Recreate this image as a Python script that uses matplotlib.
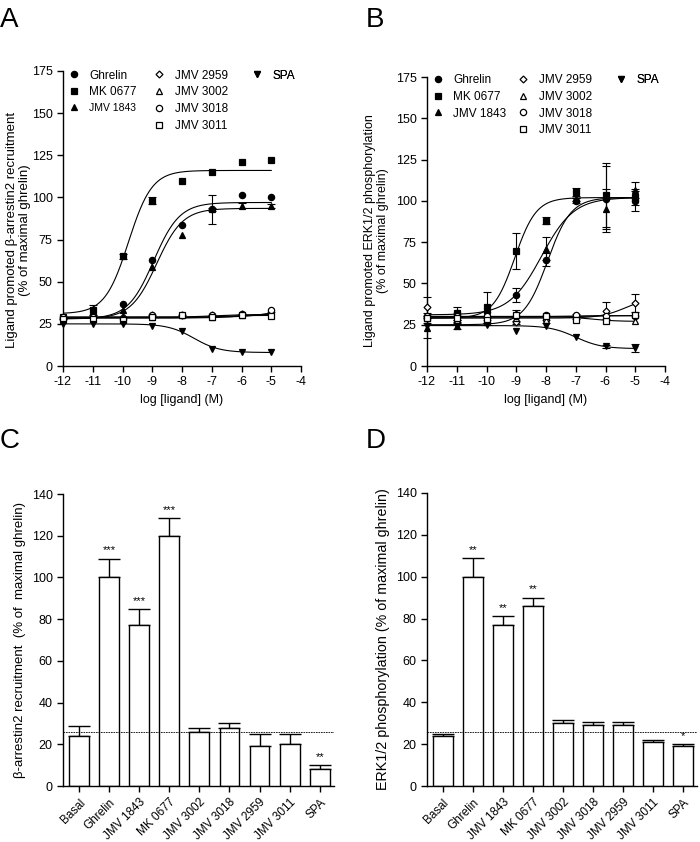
import numpy as np
import matplotlib.pyplot as plt

plt.rcParams['font.family'] = ['Liberation Sans', 'DejaVu Sans']
plt.rcParams['font.size'] = 8
plt.rcParams['axes.unicode_minus'] = False

# ---- dose response data (panels A and B) ----
log_dose = [-12, -11, -10, -9, -8, -7, -6, -5]
ligands = ['Ghrelin', 'MK 0677', 'JMV 1843', 'JMV 2959', 'JMV 3002', 'JMV 3018', 'JMV 3011', 'SPA']
markers = ['o', 's', '^', 'D', '^', 'o', 's', 'v']
filled = [True, True, True, False, False, False, False, True]

# panel A: beta-arrestin2 recruitment
arr_mean = {
    'Ghrelin': [28, 30, 37, 63, 83.5, 93, 101.5, 100.5],
    'MK 0677': [29, 33, 65, 98, 109.5, 115, 121, 122],
    'JMV 1843': [27, 28, 33, 59, 78, 93, 95, 95],
    'JMV 2959': [28, 29, 29, 30, 30, 30, 31, 32],
    'JMV 3002': [28, 28, 29, 29, 30, 29, 30, 31],
    'JMV 3018': [29, 29, 28, 30, 30, 30, 31, 33.5],
    'JMV 3011': [28, 28, 27, 29, 30, 29, 30.5, 29.5],
    'SPA': [25, 25, 25, 23.5, 21, 10, 8.5, 8.5],
}
arr_sem = {
    'Ghrelin': [0, 0, 0, 0, 0, 8.5, 0, 0],
    'MK 0677': [0, 3, 1.5, 2, 0, 0, 0, 0],
    'JMV 1843': [0, 0, 0, 0, 0, 1, 1.5, 1],
}
# fitted curves: bottom, top, logEC50, hill
arr_fit = {
    'Ghrelin': (28, 97, -8.95, 1.0),
    'MK 0677': (31, 116, -9.8, 1.1),
    'JMV 1843': (28, 93.5, -8.85, 1.0),
    'JMV 2959': (29, 34, -5.0, 1.0),
    'JMV 3002': (28.5, 31, -6.0, 1.0),
    'JMV 3018': (29, 30.5, -7.0, 1.0),
    'JMV 3011': (28.5, 30, -7.0, 1.0),
    'SPA': (25, 8, -7.6, 1.0),
}

# panel B: ERK1/2 phosphorylation
erk_mean = {
    'Ghrelin': [29, 32, 33, 43, 64.5, 100, 101, 100],
    'MK 0677': [29, 32, 35.5, 69.5, 88, 105.5, 103.5, 102.5],
    'JMV 1843': [23, 24.5, 27, 32, 71, 101, 95, 106.5],
    'JMV 2959': [36, 28, 28, 26.5, 28, 30, 33.5, 38],
    'JMV 3002': [30, 28, 29, 29, 28, 29, 28, 27.5],
    'JMV 3018': [30, 30, 30, 30, 31, 31, 30, 30],
    'JMV 3011': [29, 29, 28, 31, 30, 28, 27.5, 31],
    'SPA': [24, 24.5, 25, 21, 24, 17.5, 12, 11],
}
erk_sem = {
    'Ghrelin': [0, 0, 0, 4, 4, 1.5, 20, 6],
    'MK 0677': [3, 4, 9.5, 11, 2, 2.5, 19.5, 5],
    'JMV 1843': [6, 2, 2, 2, 7, 1, 12, 5],
    'JMV 2959': [6, 2, 2, 1, 2, 1.5, 5, 5.5],
    'SPA': [0, 0, 0, 0, 0, 0, 1, 2.5],
}
erk_fit = {
    'Ghrelin': (31, 102, -8.15, 0.8),
    'MK 0677': (29, 102, -9.05, 1.2),
    'JMV 1843': (25, 102, -7.95, 1.1),
    'JMV 2959': (29, 42, -5.3, 1.0),
    'JMV 3002': (30, 27, -6.5, 1.0),
    'JMV 3018': (30, 30.5, -7.0, 1.0),
    'JMV 3011': (29.5, 30.5, -7.0, 1.0),
    'SPA': (24.5, 10.5, -7.0, 1.0),
}

# ---- bar data (panels C and D) ----
bar_labels = ['Basal', 'Ghrelin', 'JMV 1843', 'MK 0677', 'JMV 3002', 'JMV 3018', 'JMV 2959', 'JMV 3011', 'SPA']
arr_bar = [24, 100, 77, 120, 26, 28, 19, 20, 8]
arr_bar_err = [5, 9, 8, 8.5, 2, 2, 6, 5, 2]
arr_stars = ['', '***', '***', '***', '', '', '', '', '**']
arr_basal_line = 25.7
erk_bar = [24, 100, 77, 86, 30, 29, 29, 21, 19]
erk_bar_err = [1, 9, 4, 4, 1.5, 1.5, 1.5, 1, 1]
erk_stars = ['', '**', '**', '**', '', '', '', '', '*']
erk_basal_line = 25.6


def logistic(x, bottom, top, logec50, hill):
    return bottom + (top - bottom) / (1 + 10 ** (hill * (logec50 - x)))


def style_axes(ax):
    for s in ['top', 'right']:
        ax.spines[s].set_visible(False)
    for s in ['left', 'bottom']:
        ax.spines[s].set_linewidth(1.0)
    ax.tick_params(direction='out', length=4, width=1.0, labelsize=9)


def dose_panel(ax, means, sems, fits, ylabel, ylabel_size, legend_y, small_label=None):
    xs = np.linspace(-12, -5, 300)
    handles = {}
    for name, mk, fill in zip(ligands, markers, filled):
        y = means[name]
        ms = 3.5 if mk == 'D' else 4.5
        h, = ax.plot(log_dose, y, linestyle='none', marker=mk, ms=ms,
                     mfc='black' if fill else 'white', mec='black', mew=0.9,
                     clip_on=False, zorder=4, label=name)
        handles[name] = h
        ax.plot(xs, logistic(xs, *fits[name]), color='black', lw=0.8, zorder=3)
        if name in sems:
            err = np.array(sems[name])
            keep = err > 0
            ax.errorbar(np.array(log_dose)[keep], np.array(y)[keep], yerr=err[keep],
                        fmt='none', ecolor='black', elinewidth=0.8, capsize=3,
                        capthick=0.8, zorder=3, clip_on=False)
    ax.set_xlim(-12, -4)
    ax.set_ylim(0, 175)
    ax.set_xticks(range(-12, -3))
    ax.set_yticks(range(0, 176, 25))
    ax.set_xlabel('log [ligand] (M)', fontsize=9)
    ax.set_ylabel(ylabel, fontsize=ylabel_size, linespacing=1.15)
    style_axes(ax)

    groups = [(['Ghrelin', 'MK 0677', 'JMV 1843'], 0.02),
              (['JMV 2959', 'JMV 3002', 'JMV 3018', 'JMV 3011'], 0.38),
              (['SPA'], 0.79)]
    for names, gx in groups:
        leg = ax.legend([handles[n] for n in names], names, loc='upper left',
                        bbox_to_anchor=(gx, legend_y), frameon=False, fontsize=8.5,
                        handlelength=1.0, handletextpad=0.8, labelspacing=0.4,
                        borderpad=0, borderaxespad=0)
        for t in leg.get_texts():
            if t.get_text() == small_label:
                t.set_fontsize(7.5)
        ax.add_artist(leg)
    return handles


def bar_panel(ax, values, errs, stars, base, ylabel, ylabel_size):
    x = np.arange(len(bar_labels))
    ax.bar(x, values, width=0.66, color='white', edgecolor='black', linewidth=1.0, zorder=2)
    ax.errorbar(x, values, yerr=[np.zeros(len(values)), errs], fmt='none', ecolor='black',
                elinewidth=1.0, capsize=8, capthick=1.0, zorder=1)
    for xi, v, e, s in zip(x, values, errs, stars):
        if s:
            ax.text(xi, v + e + 1.5, s, ha='center', va='bottom', fontsize=8)
    ax.axhline(base, color='black', lw=0.6, ls=(0, (2, 1)), zorder=3)
    ax.set_xlim(-0.53, 8.47)
    ax.set_ylim(0, 140)
    ax.set_yticks(range(0, 141, 20))
    ax.set_xticks(x)
    style_axes(ax)
    ax.set_xticklabels(bar_labels, rotation=45, ha='right', rotation_mode='anchor', fontsize=8.5)
    ax.set_ylabel(ylabel, fontsize=ylabel_size)


fig = plt.figure(figsize=(7, 8.42), dpi=100)
axA = fig.add_axes([0.09, 0.5653, 0.34, 0.3504])
axB = fig.add_axes([0.61, 0.5653, 0.34, 0.3432])
axC = fig.add_axes([0.09, 0.0665, 0.387, 0.3468])
axD = fig.add_axes([0.61, 0.0665, 0.3857, 0.348])

dose_panel(axA, arr_mean, arr_sem, arr_fit,
           'Ligand promoted \u03b2-arrestin2 recruitment\n(% of maximal ghrelin)', 9.5, 1.005,
           small_label='JMV 1843')
dose_panel(axB, erk_mean, erk_sem, erk_fit,
           'Ligand promoted ERK1/2 phosphorylation\n(% of maximal ghrelin)', 9, 1.01)
axA.yaxis.set_label_coords(-0.135, 0.46)
axB.yaxis.set_label_coords(-0.16, 0.47)

bar_panel(axC, arr_bar, arr_bar_err, arr_stars, arr_basal_line,
          '\u03b2-arrestin2 recruitment  (% of  maximal ghrelin)', 9.5)
bar_panel(axD, erk_bar, erk_bar_err, erk_stars, erk_basal_line,
          'ERK1/2 phosphorylation (% of maximal ghrelin)', 10.3)

for lab, x, y in [('A', 0.0, 0.992), ('B', 0.522, 0.992), ('C', 0.0, 0.492), ('D', 0.522, 0.492)]:
    fig.text(x, y, lab, fontsize=20, va='top', ha='left')

fig.savefig('out.png', dpi=100)
